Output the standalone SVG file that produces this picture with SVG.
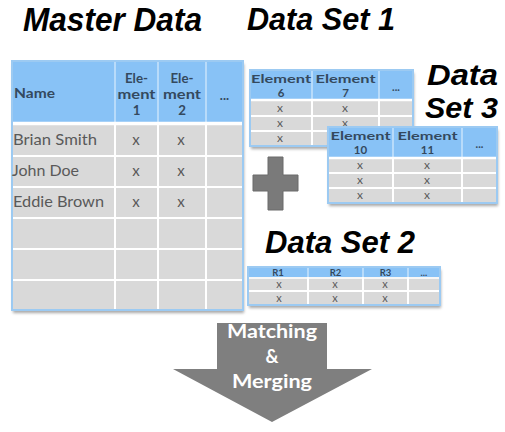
<svg xmlns="http://www.w3.org/2000/svg" width="505" height="432" viewBox="0 0 505 432">
<defs>
<style>
.hd{fill:#88c2f6}
.bd{fill:#d9d9d9}
.gl{stroke:#fff;stroke-width:2}
.hl{stroke:#c9e3fb;stroke-width:1.5}
.bo{fill:none;stroke:#9ccaf2;stroke-width:2}
.title{font-family:"Liberation Sans",Arial,sans-serif;font-weight:bold;font-style:italic;fill:#000}
.th{font-family:Lato,"Open Sans",sans-serif;font-weight:bold;fill:#34495e;text-anchor:middle}
.td{font-family:Lato,"Open Sans",sans-serif;fill:#595959}
.x{font-family:Lato,"Open Sans",sans-serif;fill:#595959;text-anchor:middle}
.ar{font-family:Lato,"Open Sans",sans-serif;font-weight:bold;fill:#fff;text-anchor:middle;font-size:18px}
</style>
<filter id="sh" x="-5%" y="-5%" width="115%" height="120%">
<feGaussianBlur in="SourceAlpha" stdDeviation="1.5"/>
<feOffset dx="1" dy="2.5" result="b"/>
<feComponentTransfer><feFuncA type="linear" slope="0.35"/></feComponentTransfer>
<feMerge><feMergeNode/><feMergeNode in="SourceGraphic"/></feMerge>
</filter>
</defs>
<rect width="505" height="432" fill="#fff"/>

<g id="titles">
<text class="title" x="23" y="31" font-size="33" textLength="179" lengthAdjust="spacingAndGlyphs">Master Data</text>
<text class="title" x="247" y="30" font-size="31" textLength="148" lengthAdjust="spacingAndGlyphs">Data Set 1</text>
<text class="title" x="427" y="85" font-size="29.5" textLength="71" lengthAdjust="spacingAndGlyphs">Data</text>
<text class="title" x="425" y="118" font-size="29.5" textLength="73" lengthAdjust="spacingAndGlyphs">Set 3</text>
<text class="title" x="265" y="253" font-size="31" textLength="150" lengthAdjust="spacingAndGlyphs">Data Set 2</text>
</g>

<g id="master-data">
<g filter="url(#sh)">
<rect class="hd" x="12" y="61" width="231" height="61"/>
<rect class="bd" x="12" y="122" width="231" height="188"/>
</g>
<line class="hl" x1="115" y1="61" x2="115" y2="122"/>
<line class="hl" x1="158" y1="61" x2="158" y2="122"/>
<line class="hl" x1="206" y1="61" x2="206" y2="122"/>
<line stroke="#fff" stroke-width="3.5" x1="12" y1="123.5" x2="243" y2="123.5"/>
<line class="gl" x1="12" y1="156" x2="243" y2="156"/>
<line class="gl" x1="12" y1="187" x2="243" y2="187"/>
<line class="gl" x1="12" y1="218" x2="243" y2="218"/>
<line class="gl" x1="12" y1="249" x2="243" y2="249"/>
<line class="gl" x1="12" y1="280" x2="243" y2="280"/>
<line class="gl" x1="115" y1="122" x2="115" y2="310"/>
<line class="gl" x1="158" y1="122" x2="158" y2="310"/>
<line class="gl" x1="206" y1="122" x2="206" y2="310"/>
<rect class="bo" x="12" y="61" width="231" height="249"/>
<text class="th" x="14" y="98" font-size="14" style="text-anchor:start" textLength="41" lengthAdjust="spacingAndGlyphs">Name</text>
<text class="th" x="136.5" y="83" font-size="13.3">Ele-</text>
<text class="th" x="136.5" y="99" font-size="13.3" textLength="38" lengthAdjust="spacingAndGlyphs">ment</text>
<text class="th" x="136.5" y="115" font-size="13.3">1</text>
<text class="th" x="182" y="83" font-size="13.3">Ele-</text>
<text class="th" x="182" y="99" font-size="13.3" textLength="38" lengthAdjust="spacingAndGlyphs">ment</text>
<text class="th" x="182" y="115" font-size="13.3">2</text>
<text class="th" x="224.5" y="100" font-size="13">...</text>
<text class="td" x="13" y="145" font-size="15" textLength="84" lengthAdjust="spacingAndGlyphs">Brian Smith</text>
<text class="td" x="12" y="176" font-size="15" textLength="67" lengthAdjust="spacingAndGlyphs">John Doe</text>
<text class="td" x="13" y="207" font-size="15" textLength="91" lengthAdjust="spacingAndGlyphs">Eddie Brown</text>
<text class="x" x="136" y="145" font-size="15">x</text>
<text class="x" x="181" y="145" font-size="15">x</text>
<text class="x" x="136" y="176" font-size="15">x</text>
<text class="x" x="181" y="176" font-size="15">x</text>
<text class="x" x="136" y="207" font-size="15">x</text>
<text class="x" x="181" y="207" font-size="15">x</text>
</g>

<g id="data-set-1">
<g filter="url(#sh)">
<rect class="hd" x="250" y="70" width="163" height="29"/>
<rect class="bd" x="250" y="99" width="163" height="47"/>
</g>
<line class="hl" x1="312" y1="70" x2="312" y2="99"/>
<line class="hl" x1="379" y1="70" x2="379" y2="99"/>
<line stroke="#fff" stroke-width="2.5" x1="250" y1="100" x2="413" y2="100"/>
<line class="gl" x1="250" y1="116" x2="413" y2="116" stroke-width="1.5"/>
<line class="gl" x1="250" y1="131" x2="413" y2="131" stroke-width="1.5"/>
<line class="gl" x1="312" y1="99" x2="312" y2="146" stroke-width="1.5"/>
<line class="gl" x1="379" y1="99" x2="379" y2="146" stroke-width="1.5"/>
<rect class="bo" x="250" y="70" width="163" height="76"/>
<text class="th" x="281" y="83" font-size="11.5" textLength="60" lengthAdjust="spacingAndGlyphs">Element</text>
<text class="th" x="281" y="97" font-size="11.5">6</text>
<text class="th" x="345.5" y="83" font-size="11.5" textLength="60" lengthAdjust="spacingAndGlyphs">Element</text>
<text class="th" x="345.5" y="97" font-size="11.5">7</text>
<text class="th" x="396" y="91" font-size="11">...</text>
<text class="x" x="280" y="112" font-size="12">x</text>
<text class="x" x="345" y="112" font-size="12">x</text>
<text class="x" x="280" y="127" font-size="12">x</text>
<text class="x" x="345" y="127" font-size="12">x</text>
<text class="x" x="280" y="142" font-size="12">x</text>
</g>

<g id="plus">
<path d="M268,157 H283 V175 H298 V191 H283 V210 H268 V191 H253 V175 H268 Z" fill="#7a7a7a" stroke="#6a6a6a" stroke-width="1"/>
</g>

<g id="data-set-3">
<g filter="url(#sh)">
<rect class="hd" x="328" y="127" width="169" height="30"/>
<rect class="bd" x="328" y="157" width="169" height="46"/>
</g>
<line class="hl" x1="393" y1="127" x2="393" y2="157"/>
<line class="hl" x1="462" y1="127" x2="462" y2="157"/>
<line stroke="#fff" stroke-width="2.5" x1="328" y1="158" x2="497" y2="158"/>
<line class="gl" x1="328" y1="173" x2="497" y2="173" stroke-width="1.5"/>
<line class="gl" x1="328" y1="188" x2="497" y2="188" stroke-width="1.5"/>
<line class="gl" x1="393" y1="157" x2="393" y2="203" stroke-width="1.5"/>
<line class="gl" x1="462" y1="157" x2="462" y2="203" stroke-width="1.5"/>
<rect class="bo" x="328" y="127" width="169" height="76"/>
<text class="th" x="360.5" y="140" font-size="11.5" textLength="60" lengthAdjust="spacingAndGlyphs">Element</text>
<text class="th" x="360.5" y="154" font-size="11.5">10</text>
<text class="th" x="427.5" y="140" font-size="11.5" textLength="60" lengthAdjust="spacingAndGlyphs">Element</text>
<text class="th" x="427.5" y="154" font-size="11.5">11</text>
<text class="th" x="479.5" y="148" font-size="11">...</text>
<text class="x" x="360" y="169" font-size="12">x</text>
<text class="x" x="427" y="169" font-size="12">x</text>
<text class="x" x="360" y="184" font-size="12">x</text>
<text class="x" x="427" y="184" font-size="12">x</text>
<text class="x" x="360" y="199" font-size="12">x</text>
<text class="x" x="427" y="199" font-size="12">x</text>
</g>

<g id="data-set-2">
<g filter="url(#sh)">
<rect class="hd" x="248" y="267" width="192" height="10"/>
<rect class="bd" x="248" y="277" width="192" height="28"/>
</g>
<line class="hl" x1="308" y1="267" x2="308" y2="277"/>
<line class="hl" x1="363" y1="267" x2="363" y2="277"/>
<line class="hl" x1="408" y1="267" x2="408" y2="277"/>
<line stroke="#fff" stroke-width="1.5" x1="248" y1="278" x2="440" y2="278"/>
<line class="gl" x1="248" y1="291" x2="440" y2="291" stroke-width="1.2"/>
<line class="gl" x1="308" y1="277" x2="308" y2="305" stroke-width="1.2"/>
<line class="gl" x1="363" y1="277" x2="363" y2="305" stroke-width="1.2"/>
<line class="gl" x1="408" y1="277" x2="408" y2="305" stroke-width="1.2"/>
<rect class="bo" x="248" y="267" width="192" height="38" stroke-width="1.5"/>
<text class="th" x="278" y="276" font-size="9.5">R1</text>
<text class="th" x="335.5" y="276" font-size="9.5">R2</text>
<text class="th" x="385.5" y="276" font-size="9.5">R3</text>
<text class="th" x="424" y="276" font-size="9.5">...</text>
<text class="x" x="279" y="288" font-size="11">x</text>
<text class="x" x="335" y="288" font-size="11">x</text>
<text class="x" x="385" y="288" font-size="11">x</text>
<text class="x" x="279" y="302" font-size="11">x</text>
<text class="x" x="335" y="302" font-size="11">x</text>
<text class="x" x="385" y="302" font-size="11">x</text>
</g>

<g id="matching-merging">
<polygon points="217,323 327,323 327,369 372,369 272,422 173,369 217,369" fill="#7f7f7f"/>
<text class="ar" x="272" y="338" textLength="90" lengthAdjust="spacingAndGlyphs">Matching</text>
<text class="ar" x="272" y="363">&amp;</text>
<text class="ar" x="272" y="388" textLength="80" lengthAdjust="spacingAndGlyphs">Merging</text>
</g>

<g id="connectors"/>
</svg>
